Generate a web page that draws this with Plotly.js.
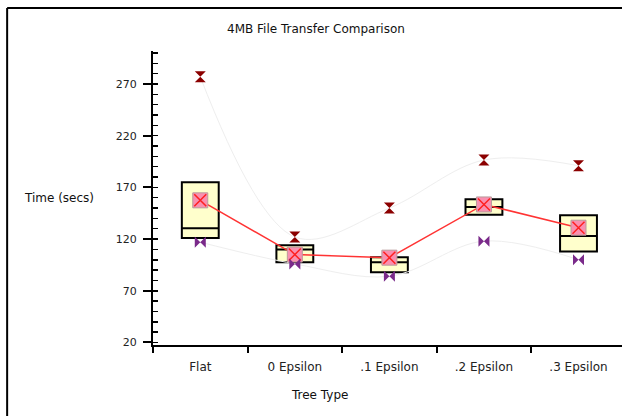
<!DOCTYPE html>
<html><head><meta charset="utf-8">
<script src="https://cdn.plot.ly/plotly-3.0.1.min.js"></script>
<style>html,body{margin:0;padding:0;background:#fff;overflow:hidden}</style>
</head><body><div id="chart" style="width:622px;height:416px"></div>
<script>
const categories = ["Flat", "0 Epsilon", ".1 Epsilon", ".2 Epsilon", ".3 Epsilon"];
const q1Values     = [121, 97.5, 88, 143.5, 108];
const medianValues = [130.5, 110, 97.5, 151, 123];
const q3Values     = [175, 114, 102.5, 158.5, 143];
const meanValues   = [157.5, 105, 102, 153.5, 131];
const maxValues    = [277, 122, 150, 196.5, 191];
const minValues    = [117, 96, 84, 118, 100];

const xs = categories.map((c, i) => i);

const traces = [
  {type:'scatter', mode:'lines', x:xs, y:maxValues, line:{color:'#eeeeee', width:1, shape:'spline'}, hoverinfo:'skip', showlegend:false},
  {type:'scatter', mode:'lines', x:xs, y:minValues, line:{color:'#eeeeee', width:1, shape:'spline'}, hoverinfo:'skip', showlegend:false},
  {type:'box', x:xs, q1:q1Values, median:medianValues, q3:q3Values, lowerfence:q1Values, upperfence:q3Values,
   width:0.39, whiskerwidth:0, fillcolor:'#ffffcc', line:{color:'#000000', width:2}, showlegend:false, boxpoints:false},
  {type:'scatter', mode:'lines', x:xs, y:meanValues, line:{color:'#ff3333', width:1.5}, showlegend:false},
  {type:'scatter', mode:'markers', x:xs, y:meanValues, marker:{symbol:'square', size:15, color:'#f98fb0', line:{color:'#b89a9a', width:1}}, showlegend:false},
  {type:'scatter', mode:'markers', x:xs, y:meanValues, marker:{symbol:'x-thin', size:12, line:{color:'#ff2020', width:1.5}}, showlegend:false},
  {type:'scatter', mode:'markers', x:xs, y:maxValues, marker:{symbol:'hourglass', size:11, color:'#8b0000'}, showlegend:false},
  {type:'scatter', mode:'markers', x:xs, y:minValues, marker:{symbol:'bowtie', size:11, color:'#7a2a8a'}, showlegend:false}
];

const layout = {
  width:622, height:416,
  margin:{l:153, r:0, t:51, b:71, pad:0},
  paper_bgcolor:'#ffffff', plot_bgcolor:'#ffffff',
  font:{family:'DejaVu Sans, sans-serif', color:'#222', size:11},
  title:{text:'4MB File Transfer Comparison', x:0.508, xref:'container', xanchor:'center', y:0.93, yref:'container', yanchor:'middle', font:{size:12, color:'#111', family:'DejaVu Sans, sans-serif'}},
  xaxis:{type:'linear', range:[-0.5, 4.46], tickvals:xs, ticktext:categories, ticks:'', showgrid:false, zeroline:false,
         showline:true, linecolor:'#000', linewidth:2, tickfont:{size:12, color:'#222'}, ticklabelstandoff:10,
         minor:{ticks:'outside', tick0:-0.5, dtick:1, ticklen:6, tickwidth:2, tickcolor:'#000'}},
  yaxis:{range:[17.5, 302], tick0:20, dtick:50, ticks:'outside', ticklen:8, tickwidth:2, tickcolor:'#000', ticklabelstandoff:4,
         showgrid:false, zeroline:false, showline:true, linecolor:'#000', linewidth:2, tickfont:{size:11, color:'#222'},
         minor:{ticks:'inside', tick0:20, dtick:10, ticklen:5, tickwidth:1.5, tickcolor:'#000'}},
  annotations:[
    {text:'Time (secs)', xref:'paper', yref:'paper', x:-0.2, y:0.5, xanchor:'center', yanchor:'middle', showarrow:false, font:{size:12, color:'#111'}},
    {text:'Tree Type', xref:'paper', yref:'paper', x:0.356, y:-0.17, xanchor:'center', yanchor:'middle', showarrow:false, font:{size:12, color:'#111'}}
  ],
  shapes:[
    {type:'line', xref:'paper', yref:'paper', x0:-0.311, x1:-0.311, y0:1.146, y1:-0.3, line:{color:'#000', width:2}},
    {type:'line', xref:'paper', yref:'paper', x0:-0.311, x1:1.1, y0:1.146, y1:1.146, line:{color:'#000', width:2}}
  ]
};
Plotly.newPlot('chart', traces, layout, {displayModeBar:false, staticPlot:true});
</script></body></html>
